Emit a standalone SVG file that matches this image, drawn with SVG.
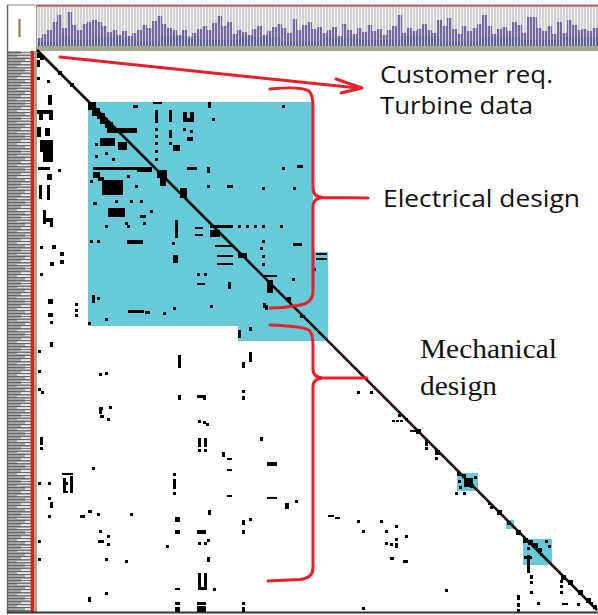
<svg xmlns="http://www.w3.org/2000/svg" width="598" height="615" viewBox="0 0 598 615">
<defs>
<style>
.c{fill:#000}
.red{fill:none;stroke:#e8202a;stroke-width:3;stroke-linecap:round;stroke-linejoin:round}
.sans{font-family:"Open Sans","Noto Sans","Liberation Sans",sans-serif;fill:#111}
.serif{font-family:"Liberation Serif","DejaVu Serif",serif;fill:#111}
.cy{fill:#68c9d9}
</style>
<pattern id="vlines" width="3" height="10" patternUnits="userSpaceOnUse" x="37">
<rect x="0" y="0" width="0.8" height="10" fill="#ffffff" opacity="0.85"/>
</pattern>
<pattern id="hlines" width="22" height="3" patternUnits="userSpaceOnUse" x="8" y="51">
<rect x="0" y="1" width="22" height="1.1" fill="#4f4f4f" opacity="0.75"/>
</pattern>
<pattern id="hgaps" width="22" height="11" patternUnits="userSpaceOnUse" x="8" y="51">
<rect x="13" y="0" width="9" height="3" fill="#e6e6e6"/>
<rect x="9" y="4" width="13" height="2" fill="#e6e6e6"/>
<rect x="17" y="7" width="5" height="3" fill="#e6e6e6"/>
</pattern>
</defs>
<rect width="598" height="615" fill="#ffffff"/>

<g id="header">
<rect x="37" y="6" width="561" height="42" fill="#d2d2d2"/>
<path fill="#74679f" d="M37,47 V38 H42 V34 H47 V30 H52 V22 H57 V15 H62 V28 H67 V12 H72 V25 H77 V30 H82 V24 H87 V22 H92 V20 H97 V22 H102 V26 H107 V32 H112 V30 H117 V35 H122 V31 H127 V36 H132 V33 H137 V30 H142 V25 H147 V28 H152 V21 H157 V16 H162 V24 H167 V28 H172 V30 H177 V35 H182 V30 H187 V38 H192 V33 H197 V29 H202 V26 H207 V30 H212 V23 H217 V16 H222 V26 H227 V22 H232 V34 H237 V30 H242 V32 H247 V35 H252 V29 H257 V26 H262 V35 H267 V31 H272 V27 H277 V24 H282 V28 H287 V33 H292 V19 H297 V30 H302 V25 H307 V22 H312 V29 H317 V27 H322 V33 H327 V30 H332 V27 H337 V36 H342 V24 H347 V30 H352 V34 H357 V28 H362 V32 H367 V25 H372 V31 H377 V29 H382 V35 H387 V30 H392 V26 H397 V15 H402 V33 H407 V28 H412 V31 H417 V29 H422 V24 H427 V30 H432 V33 H437 V20 H442 V26 H447 V18 H452 V29 H457 V34 H462 V26 H467 V31 H472 V28 H477 V24 H482 V15 H487 V26 H492 V34 H497 V29 H502 V27 H507 V31 H512 V22 H517 V25 H522 V33 H527 V17 H532 V17 H537 V28 H542 V31 H547 V26 H552 V34 H557 V22 H562 V33 H567 V20 H572 V25 H577 V30 H582 V29 H587 V31 H592 V28 H598 V47 Z"/>
<path fill="#4a5a8c" opacity="0.55" d="M37,47 V42 H60 V36 H70 V40 H95 V37 H130 V41 H160 V36 H200 V40 H240 V37 H280 V41 H320 V38 H360 V40 H400 V36 H440 V41 H480 V37 H520 V40 H560 V37 H598 V47 Z"/>
<rect x="37" y="6" width="561" height="42" fill="url(#vlines)"/>
<rect x="37" y="46" width="561" height="5" fill="#a3a88e"/>
<rect x="37" y="5" width="561" height="1.5" fill="#d03030"/>
<rect x="8" y="5" width="28" height="46" fill="#ffffff"/>
<rect x="18.5" y="19" width="2" height="18" fill="#8a7a50"/>
<line x1="36.5" y1="5" x2="36.5" y2="51" stroke="#9a9a9a" stroke-width="1"/>
<line x1="7" y1="5" x2="598" y2="5" stroke="#8a8a8a" stroke-width="1"/>
</g>

<g id="row-labels">
<rect x="8" y="51" width="23" height="561" fill="#a8a8a8"/>
<rect x="8" y="51" width="23" height="561" fill="url(#hgaps)"/>
<rect x="8" y="51" width="23" height="561" fill="url(#hlines)"/>
<rect x="31" y="51" width="3.5" height="561" fill="#e02020"/>
<rect x="34.5" y="51" width="2.5" height="561" fill="#9fa57e"/>
<line x1="7.5" y1="5" x2="7.5" y2="614" stroke="#6a6a6a" stroke-width="1.5"/>
</g>

<g id="clusters">
<path class="cy" d="M88,102 L313,102 L313,252 L328,252 L328,341 L238,341 L238,326 L88,326 Z"/>
<rect class="cy" x="457" y="473" width="21" height="18"/>
<rect class="cy" x="506" y="520" width="8" height="9"/>
<rect class="cy" x="523" y="539" width="29" height="26"/>
</g>

<g id="cells">
<line x1="37" y1="50" x2="597" y2="610" stroke="#000" stroke-width="2.6"/>
<line x1="300" y1="313" x2="597" y2="610" stroke="#c04040" stroke-width="0.6" opacity="0.6"/>
<rect class="c" x="37" y="53" width="5" height="5"/><rect class="c" x="40" y="56" width="4" height="4"/><rect class="c" x="37" y="60" width="3" height="7"/>
<rect class="c" x="47" y="80" width="3" height="3"/><rect class="c" x="37" y="77" width="3" height="3"/><rect class="c" x="48" y="95" width="4" height="10"/>
<rect class="c" x="58" y="71" width="4" height="4"/><rect class="c" x="70" y="83" width="4" height="4"/>
<rect class="c" x="37" y="110" width="16" height="4"/><rect class="c" x="39" y="114" width="4" height="6"/><rect class="c" x="49" y="114" width="4" height="6"/>
<rect class="c" x="37" y="127" width="4" height="10"/><rect class="c" x="45" y="128" width="5" height="8"/>
<rect class="c" x="40" y="140" width="13" height="12"/><rect class="c" x="43" y="152" width="10" height="10"/>
<rect class="c" x="38" y="167" width="12" height="3"/><rect class="c" x="58" y="169" width="3" height="3"/><rect class="c" x="47" y="174" width="5" height="6"/>
<rect class="c" x="39" y="185" width="3" height="14"/><rect class="c" x="47" y="185" width="3" height="15"/>
<rect class="c" x="43" y="210" width="3" height="14"/><rect class="c" x="46" y="218" width="7" height="4"/><rect class="c" x="50" y="222" width="3" height="5"/>
<rect class="c" x="40" y="246" width="3" height="3"/><rect class="c" x="52" y="245" width="4" height="4"/><rect class="c" x="60" y="252" width="4" height="4"/><rect class="c" x="60" y="260" width="4" height="4"/><rect class="c" x="50" y="262" width="4" height="4"/><rect class="c" x="40" y="273" width="3" height="3"/>
<rect class="c" x="48" y="299" width="5" height="5"/><rect class="c" x="75" y="303" width="3" height="3"/><rect class="c" x="75" y="309" width="3" height="3"/><rect class="c" x="75" y="314" width="3" height="3"/><rect class="c" x="48" y="313" width="5" height="4"/><rect class="c" x="50" y="321" width="3" height="3"/>
<rect class="c" x="50" y="342" width="3" height="5"/><rect class="c" x="38" y="350" width="3" height="3"/><rect class="c" x="38" y="370" width="3" height="3"/>

<rect class="c" x="88" y="102" width="8" height="8"/><rect class="c" x="92" y="108" width="8" height="8"/><rect class="c" x="97" y="113" width="8" height="6"/><rect class="c" x="100" y="118" width="8" height="6"/><rect class="c" x="105" y="122" width="8" height="6"/>
<rect class="c" x="107" y="128" width="30" height="5"/>
<rect class="c" x="100" y="138" width="15" height="8"/><rect class="c" x="118" y="142" width="9" height="8"/>
<rect class="c" x="93" y="167" width="59" height="3"/><rect class="c" x="137" y="167" width="15" height="5"/>
<rect class="c" x="102" y="180" width="21" height="15"/><rect class="c" x="98" y="177" width="6" height="4"/>
<rect class="c" x="108" y="208" width="17" height="9"/>
<rect class="c" x="153" y="102" width="9" height="2"/><rect class="c" x="133" y="105" width="5" height="3"/><rect class="c" x="208" y="102" width="3" height="6"/>
<rect class="c" x="155" y="110" width="3" height="13"/><rect class="c" x="155" y="128" width="3" height="3"/><rect class="c" x="155" y="135" width="3" height="3"/><rect class="c" x="155" y="142" width="3" height="3"/><rect class="c" x="155" y="150" width="3" height="3"/><rect class="c" x="155" y="158" width="3" height="3"/>
<rect class="c" x="169" y="110" width="3" height="12"/><rect class="c" x="169" y="130" width="3" height="8"/><rect class="c" x="169" y="142" width="3" height="3"/>
<rect class="c" x="173" y="145" width="7" height="6"/>
<rect class="c" x="183" y="112" width="4" height="10"/><rect class="c" x="190" y="112" width="4" height="10"/><rect class="c" x="186" y="118" width="4" height="4"/>
<rect class="c" x="212" y="118" width="3" height="3"/>
<rect class="c" x="183" y="128" width="3" height="3"/><rect class="c" x="190" y="130" width="3" height="3"/><rect class="c" x="187" y="137" width="6" height="4"/>
<rect class="c" x="187" y="167" width="10" height="3"/><rect class="c" x="207" y="167" width="3" height="6"/><rect class="c" x="227" y="185" width="6" height="3"/><rect class="c" x="207" y="185" width="3" height="3"/>
<rect class="c" x="157" y="170" width="10" height="8"/><rect class="c" x="160" y="178" width="6" height="8"/>
<rect class="c" x="180" y="188" width="7" height="10"/>
<rect class="c" x="127" y="175" width="3" height="3"/><rect class="c" x="135" y="185" width="3" height="3"/><rect class="c" x="140" y="200" width="3" height="3"/><rect class="c" x="150" y="210" width="3" height="3"/><rect class="c" x="93" y="172" width="7" height="6"/><rect class="c" x="90" y="180" width="3" height="3"/><rect class="c" x="93" y="202" width="4" height="3"/>
<rect class="c" x="130" y="200" width="3" height="3"/><rect class="c" x="115" y="200" width="3" height="3"/><rect class="c" x="125" y="222" width="3" height="3"/><rect class="c" x="140" y="215" width="6" height="3"/><rect class="c" x="143" y="222" width="3" height="3"/>
<rect class="c" x="95" y="143" width="3" height="3"/><rect class="c" x="95" y="155" width="3" height="3"/><rect class="c" x="105" y="152" width="3" height="3"/><rect class="c" x="112" y="158" width="3" height="3"/>
<rect class="c" x="90" y="240" width="3" height="3"/><rect class="c" x="97" y="240" width="3" height="3"/><rect class="c" x="105" y="225" width="3" height="3"/><rect class="c" x="127" y="225" width="3" height="3"/>
<rect class="c" x="127" y="240" width="16" height="4"/>
<rect class="c" x="195" y="227" width="8" height="2"/><rect class="c" x="195" y="234" width="8" height="2"/><rect class="c" x="210" y="225" width="23" height="3"/><rect class="c" x="238" y="225" width="3" height="3"/><rect class="c" x="246" y="225" width="3" height="3"/><rect class="c" x="254" y="225" width="3" height="3"/><rect class="c" x="262" y="225" width="3" height="3"/><rect class="c" x="280" y="225" width="3" height="3"/>
<rect class="c" x="210" y="230" width="10" height="7"/>
<rect class="c" x="215" y="245" width="18" height="2"/><rect class="c" x="217" y="255" width="16" height="2"/><rect class="c" x="217" y="263" width="16" height="2"/><rect class="c" x="238" y="253" width="9" height="5"/>
<rect class="c" x="197" y="273" width="3" height="3"/><rect class="c" x="204" y="273" width="3" height="3"/><rect class="c" x="197" y="283" width="8" height="2"/><rect class="c" x="228" y="282" width="3" height="7"/>
<rect class="c" x="263" y="275" width="14" height="2"/><rect class="c" x="267" y="280" width="6" height="13"/><rect class="c" x="292" y="278" width="3" height="3"/>
<rect class="c" x="282" y="167" width="3" height="3"/><rect class="c" x="297" y="165" width="6" height="3"/><rect class="c" x="282" y="105" width="3" height="3"/><rect class="c" x="293" y="187" width="3" height="3"/><rect class="c" x="262" y="187" width="3" height="3"/>
<rect class="c" x="293" y="243" width="9" height="3"/><rect class="c" x="262" y="240" width="3" height="3"/><rect class="c" x="260" y="247" width="3" height="3"/><rect class="c" x="262" y="255" width="3" height="3"/><rect class="c" x="262" y="263" width="3" height="3"/>
<rect class="c" x="175" y="220" width="3" height="18"/><rect class="c" x="172" y="242" width="3" height="3"/><rect class="c" x="173" y="255" width="5" height="8"/>
<rect class="c" x="92" y="295" width="3" height="8"/><rect class="c" x="97" y="297" width="3" height="3"/><rect class="c" x="105" y="318" width="3" height="3"/><rect class="c" x="88" y="322" width="3" height="3"/>
<rect class="c" x="128" y="310" width="16" height="3"/><rect class="c" x="145" y="311" width="5" height="3"/><rect class="c" x="163" y="312" width="3" height="3"/><rect class="c" x="173" y="307" width="3" height="3"/><rect class="c" x="210" y="305" width="3" height="3"/><rect class="c" x="263" y="303" width="3" height="5"/>
<rect class="c" x="316" y="253" width="11" height="2"/><rect class="c" x="316" y="258" width="11" height="2"/><rect class="c" x="313" y="268" width="3" height="3"/>
<rect class="c" x="238" y="330" width="3" height="8"/><rect class="c" x="249" y="327" width="3" height="4"/>
<rect class="c" x="287" y="297" width="4" height="5"/><rect class="c" x="300" y="315" width="5" height="3"/><rect class="c" x="265" y="305" width="3" height="5"/>

<rect class="c" x="178" y="355" width="3" height="13"/><rect class="c" x="242" y="362" width="3" height="6"/><rect class="c" x="249" y="352" width="3" height="10"/><rect class="c" x="250" y="352" width="2" height="5"/>
<rect class="c" x="99" y="373" width="3" height="3"/><rect class="c" x="105" y="372" width="3" height="3"/>
<rect class="c" x="38" y="388" width="3" height="3"/><rect class="c" x="41" y="391" width="3" height="3"/>
<rect class="c" x="178" y="395" width="3" height="5"/><rect class="c" x="197" y="395" width="8" height="3"/><rect class="c" x="203" y="395" width="3" height="5"/><rect class="c" x="242" y="390" width="3" height="3"/><rect class="c" x="242" y="396" width="3" height="4"/>
<rect class="c" x="99" y="407" width="4" height="3"/><rect class="c" x="99" y="410" width="3" height="4"/><rect class="c" x="100" y="415" width="4" height="3"/><rect class="c" x="109" y="406" width="3" height="3"/><rect class="c" x="107" y="418" width="3" height="3"/>
<rect class="c" x="198" y="420" width="3" height="3"/><rect class="c" x="203" y="421" width="3" height="3"/><rect class="c" x="206" y="423" width="3" height="3"/>
<rect class="c" x="40" y="437" width="3" height="8"/><rect class="c" x="40" y="447" width="3" height="3"/>
<rect class="c" x="198" y="438" width="3" height="9"/><rect class="c" x="204" y="438" width="3" height="9"/><rect class="c" x="198" y="449" width="3" height="3"/><rect class="c" x="204" y="449" width="3" height="3"/>
<rect class="c" x="260" y="437" width="3" height="4"/>
<rect class="c" x="222" y="452" width="3" height="5"/><rect class="c" x="227" y="458" width="5" height="2"/><rect class="c" x="227" y="469" width="5" height="2"/>
<rect class="c" x="267" y="462" width="10" height="4"/>
<rect class="c" x="92" y="467" width="3" height="3"/>
<rect class="c" x="62" y="473" width="11" height="2"/><rect class="c" x="63" y="478" width="3" height="15"/><rect class="c" x="70" y="476" width="3" height="17"/><rect class="c" x="66" y="482" width="2" height="3"/><rect class="c" x="63" y="491" width="5" height="2"/>
<rect class="c" x="38" y="482" width="3" height="3"/><rect class="c" x="48" y="482" width="3" height="3"/>
<rect class="c" x="173" y="473" width="3" height="3"/><rect class="c" x="173" y="479" width="3" height="10"/><rect class="c" x="173" y="492" width="3" height="3"/>
<rect class="c" x="227" y="495" width="5" height="2"/><rect class="c" x="267" y="497" width="10" height="2"/><rect class="c" x="285" y="503" width="4" height="6"/><rect class="c" x="295" y="500" width="3" height="3"/>
<rect class="c" x="48" y="497" width="3" height="3"/><rect class="c" x="50" y="502" width="3" height="6"/><rect class="c" x="48" y="515" width="3" height="3"/>
<rect class="c" x="80" y="515" width="5" height="3"/><rect class="c" x="88" y="510" width="4" height="3"/><rect class="c" x="97" y="513" width="3" height="3"/><rect class="c" x="130" y="513" width="3" height="3"/><rect class="c" x="208" y="510" width="3" height="5"/>
<rect class="c" x="242" y="520" width="3" height="5"/><rect class="c" x="249" y="518" width="3" height="3"/>
<rect class="c" x="175" y="517" width="5" height="5"/><rect class="c" x="175" y="530" width="5" height="4"/><rect class="c" x="197" y="530" width="9" height="4"/><rect class="c" x="242" y="530" width="3" height="4"/>
<rect class="c" x="99" y="530" width="3" height="3"/><rect class="c" x="107" y="535" width="3" height="3"/><rect class="c" x="98" y="540" width="6" height="3"/><rect class="c" x="107" y="543" width="3" height="3"/>
<rect class="c" x="198" y="542" width="3" height="3"/><rect class="c" x="204" y="542" width="3" height="3"/><rect class="c" x="207" y="539" width="3" height="3"/>
<rect class="c" x="166" y="545" width="3" height="3"/><rect class="c" x="38" y="540" width="3" height="3"/><rect class="c" x="38" y="558" width="3" height="3"/><rect class="c" x="105" y="558" width="3" height="3"/><rect class="c" x="125" y="560" width="3" height="3"/><rect class="c" x="207" y="557" width="3" height="5"/>
<rect class="c" x="198" y="573" width="3" height="17"/><rect class="c" x="204" y="573" width="3" height="17"/><rect class="c" x="198" y="587" width="9" height="3"/><rect class="c" x="213" y="588" width="3" height="3"/><rect class="c" x="175" y="588" width="5" height="2"/>
<rect class="c" x="105" y="592" width="3" height="3"/><rect class="c" x="88" y="597" width="3" height="5"/>
<rect class="c" x="175" y="602" width="5" height="3"/><rect class="c" x="175" y="607" width="5" height="5"/><rect class="c" x="197" y="602" width="9" height="3"/><rect class="c" x="197" y="606" width="9" height="6"/><rect class="c" x="242" y="602" width="3" height="3"/><rect class="c" x="242" y="607" width="3" height="5"/>

<rect class="c" x="357" y="391" width="3" height="3"/><rect class="c" x="370" y="391" width="3" height="3"/>
<rect class="c" x="392" y="420" width="3" height="2"/><rect class="c" x="396" y="420" width="3" height="2"/><rect class="c" x="400" y="420" width="3" height="2"/><rect class="c" x="398" y="414" width="3" height="3"/><rect class="c" x="405" y="418" width="3" height="3"/>
<rect class="c" x="410" y="430" width="8" height="2"/><rect class="c" x="416" y="429" width="5" height="5"/>
<rect class="c" x="425" y="440" width="3" height="6"/><rect class="c" x="425" y="447" width="3" height="3"/>
<rect class="c" x="435" y="450" width="5" height="5"/><rect class="c" x="435" y="457" width="3" height="3"/>
<rect class="c" x="457" y="472" width="4" height="4"/><rect class="c" x="462" y="474" width="4" height="4"/><rect class="c" x="458" y="480" width="3" height="3"/><rect class="c" x="464" y="478" width="9" height="9"/><rect class="c" x="470" y="484" width="4" height="4"/><rect class="c" x="459" y="486" width="3" height="3"/><rect class="c" x="474" y="476" width="3" height="3"/>
<rect class="c" x="455" y="492" width="3" height="3"/><rect class="c" x="463" y="492" width="3" height="3"/>
<rect class="c" x="488" y="502" width="3" height="3"/><rect class="c" x="490" y="506" width="3" height="3"/><rect class="c" x="497" y="510" width="5" height="5"/>
<rect class="c" x="507" y="521" width="4" height="4"/>
<rect class="c" x="516" y="530" width="5" height="5"/>
<rect class="c" x="523" y="538" width="5" height="5"/><rect class="c" x="528" y="540" width="5" height="5"/><rect class="c" x="533" y="543" width="5" height="5"/><rect class="c" x="527" y="547" width="3" height="3"/><rect class="c" x="545" y="540" width="3" height="3"/><rect class="c" x="548" y="545" width="3" height="3"/><rect class="c" x="527" y="555" width="3" height="18"/><rect class="c" x="524" y="556" width="8" height="3"/><rect class="c" x="540" y="553" width="3" height="3"/><rect class="c" x="538" y="548" width="4" height="4"/>
<rect class="c" x="530" y="575" width="3" height="4"/><rect class="c" x="530" y="581" width="3" height="3"/><rect class="c" x="530" y="591" width="3" height="3"/>
<rect class="c" x="560" y="580" width="3" height="3"/><rect class="c" x="560" y="585" width="3" height="3"/><rect class="c" x="560" y="591" width="3" height="3"/>
<rect class="c" x="517" y="595" width="3" height="5"/><rect class="c" x="517" y="603" width="3" height="4"/><rect class="c" x="517" y="609" width="3" height="3"/><rect class="c" x="537" y="602" width="3" height="3"/>
<rect class="c" x="562" y="603" width="6" height="2"/><rect class="c" x="577" y="603" width="3" height="3"/><rect class="c" x="590" y="602" width="3" height="3"/>
<rect class="c" x="445" y="589" width="3" height="3"/><rect class="c" x="362" y="607" width="3" height="3"/>
<rect class="c" x="328" y="515" width="6" height="2"/><rect class="c" x="335" y="517" width="5" height="2"/><rect class="c" x="357" y="520" width="3" height="3"/><rect class="c" x="380" y="520" width="3" height="3"/><rect class="c" x="395" y="525" width="3" height="3"/><rect class="c" x="362" y="530" width="3" height="3"/><rect class="c" x="385" y="530" width="3" height="3"/><rect class="c" x="405" y="535" width="3" height="3"/><rect class="c" x="395" y="538" width="3" height="3"/><rect class="c" x="385" y="542" width="3" height="3"/><rect class="c" x="390" y="543" width="3" height="3"/><rect class="c" x="395" y="543" width="3" height="5"/><rect class="c" x="390" y="557" width="4" height="3"/><rect class="c" x="403" y="560" width="5" height="3"/>
<rect class="c" x="561" y="575" width="5" height="5"/><rect class="c" x="568" y="580" width="5" height="5"/><rect class="c" x="578" y="590" width="5" height="5"/><rect class="c" x="586" y="598" width="5" height="5"/><rect class="c" x="593" y="605" width="4" height="4"/>
</g>

<line id="frame-bottom" x1="7" y1="612.5" x2="598" y2="612.5" stroke="#333" stroke-width="2"/>

<g id="annotations">
<path class="red" d="M60,57 L358,88"/>
<path class="red" d="M336,79 L362,88 L341,93"/>
<path class="red" d="M270,89 Q300,86 309,91 Q313,95 313,106 L313,188 Q313,197 323,197.5 L368,198 M323,197.5 Q313,198 313,207 L313,291 Q313,303 300,305 Q285,308 270,308"/>
<path class="red" d="M270,325 Q300,326 309,330 Q313,334 313,345 L313,369 Q313,377.5 323,378 L367,378 M323,378 Q313,378.5 313,387 L313,568 Q313,578 300,579.5 L268,581"/>
</g>

<g id="labels">
<text class="sans" x="380" y="83" font-size="23" textLength="173" lengthAdjust="spacingAndGlyphs">Customer req.</text>
<text class="sans" x="380" y="114" font-size="23" textLength="153" lengthAdjust="spacingAndGlyphs">Turbine data</text>
<text class="sans" x="383" y="207" font-size="23" textLength="197" lengthAdjust="spacingAndGlyphs">Electrical design</text>
<text class="serif" x="420" y="358" font-size="28" textLength="137" lengthAdjust="spacingAndGlyphs">Mechanical</text>
<text class="serif" x="420" y="395" font-size="28" textLength="77" lengthAdjust="spacingAndGlyphs">design</text>
</g>
</svg>
